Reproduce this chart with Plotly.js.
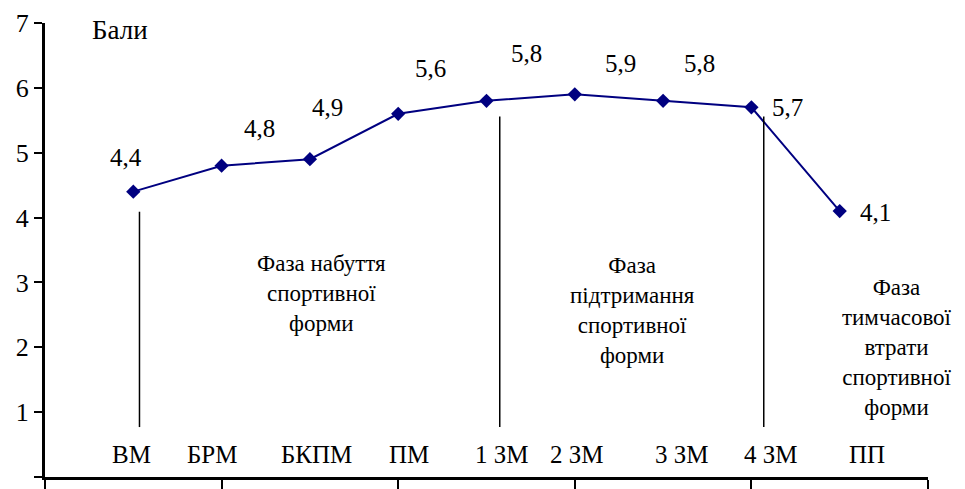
<!DOCTYPE html>
<html>
<head>
<meta charset="utf-8">
<script src="https://cdn.plot.ly/plotly-3.0.1.min.js"></script>
<style>html,body{margin:0;padding:0;background:#fff;}#chart{width:965px;height:489px;}</style>
</head>
<body>
<div id="chart"></div>
<script>
// ---- data ----
var categories = ["ВМ", "БРМ", "БКПМ", "ПМ", "1 ЗМ", "2 ЗМ", "3 ЗМ", "4 ЗМ", "ПП"];
var scores = [4.4, 4.8, 4.9, 5.6, 5.8, 5.9, 5.8, 5.7, 4.1];
var valueLabels = ["4,4", "4,8", "4,9", "5,6", "5,8", "5,9", "5,8", "5,7", "4,1"];
var phaseNames = [
  "Фаза набуття<br>спортивної<br>форми",
  "Фаза<br>підтримання<br>спортивної<br>форми",
  "Фаза<br>тимчасової<br>втрати<br>спортивної<br>форми"
];
var yTitle = "Бали";

// ---- layout helpers (positions only) ----
var pointX = [1, 2, 3, 4, 5, 6, 7, 8, 9];
var catLabelX = [0.98, 1.90, 3.07, 4.12, 5.17, 6.02, 7.21, 8.22, 9.31];
var catLabelY = 0.34;
var valLabelX = [0.92, 2.43, 3.20, 4.37, 5.45, 6.52, 7.41, 8.41, 9.40];
var valLabelY = [4.93, 5.38, 5.69, 6.30, 6.53, 6.38, 6.38, 5.70, 4.08];
var dividerX = [1.07, 5.15, 8.14];
var dividerTop = [4.09, 5.56, 5.56];
var dividerBottom = 0.77;
var phaseX = [3.13, 6.65, 9.65];
var phaseY = [2.83, 2.57, 1.99];

var traces = [{
  x: pointX, y: scores, mode: "lines+markers",
  line: {color: "#000080", width: 2},
  marker: {symbol: "diamond", size: 11, color: "#000080"}
}];

var shapes = [];
for (var d = 0; d < dividerX.length; d++) {
  shapes.push({type: "line", xref: "x", yref: "y",
    x0: dividerX[d], x1: dividerX[d], y0: dividerBottom, y1: dividerTop[d],
    line: {color: "#000000", width: 1.5}});
}

var annotations = [];
for (var i = 0; i < categories.length; i++) {
  annotations.push({x: catLabelX[i], y: catLabelY, text: categories[i], showarrow: false, font: {size: 25}});
  annotations.push({x: valLabelX[i], y: valLabelY[i], text: valueLabels[i], showarrow: false, font: {size: 25}});
}
for (var p = 0; p < phaseNames.length; p++) {
  annotations.push({x: phaseX[p], y: phaseY[p], text: phaseNames[p], showarrow: false, font: {size: 23}});
}
annotations.push({x: 0.85, y: 6.89, text: yTitle, showarrow: false, font: {size: 27}});

var layout = {
  width: 965, height: 489,
  margin: {l: 45, r: 37, t: 23, b: 12},
  showlegend: false,
  font: {family: "Liberation Serif", color: "#000000"},
  xaxis: {
    range: [0, 10], dtick: 2, tick0: 0,
    showticklabels: false, ticks: "outside", ticklen: 9, tickwidth: 2, tickcolor: "#000000",
    showline: true, linecolor: "#000000", linewidth: 3, showgrid: false, zeroline: false
  },
  yaxis: {
    range: [0, 7], dtick: 1, tick0: 0,
    ticks: "outside", ticklen: 8, tickwidth: 2, tickcolor: "#000000",
    tickfont: {size: 26},
    showline: true, linecolor: "#000000", linewidth: 3, showgrid: false, zeroline: false
  },
  shapes: shapes,
  annotations: annotations
};

Plotly.newPlot("chart", traces, layout, {displayModeBar: false});
</script>
</body>
</html>
